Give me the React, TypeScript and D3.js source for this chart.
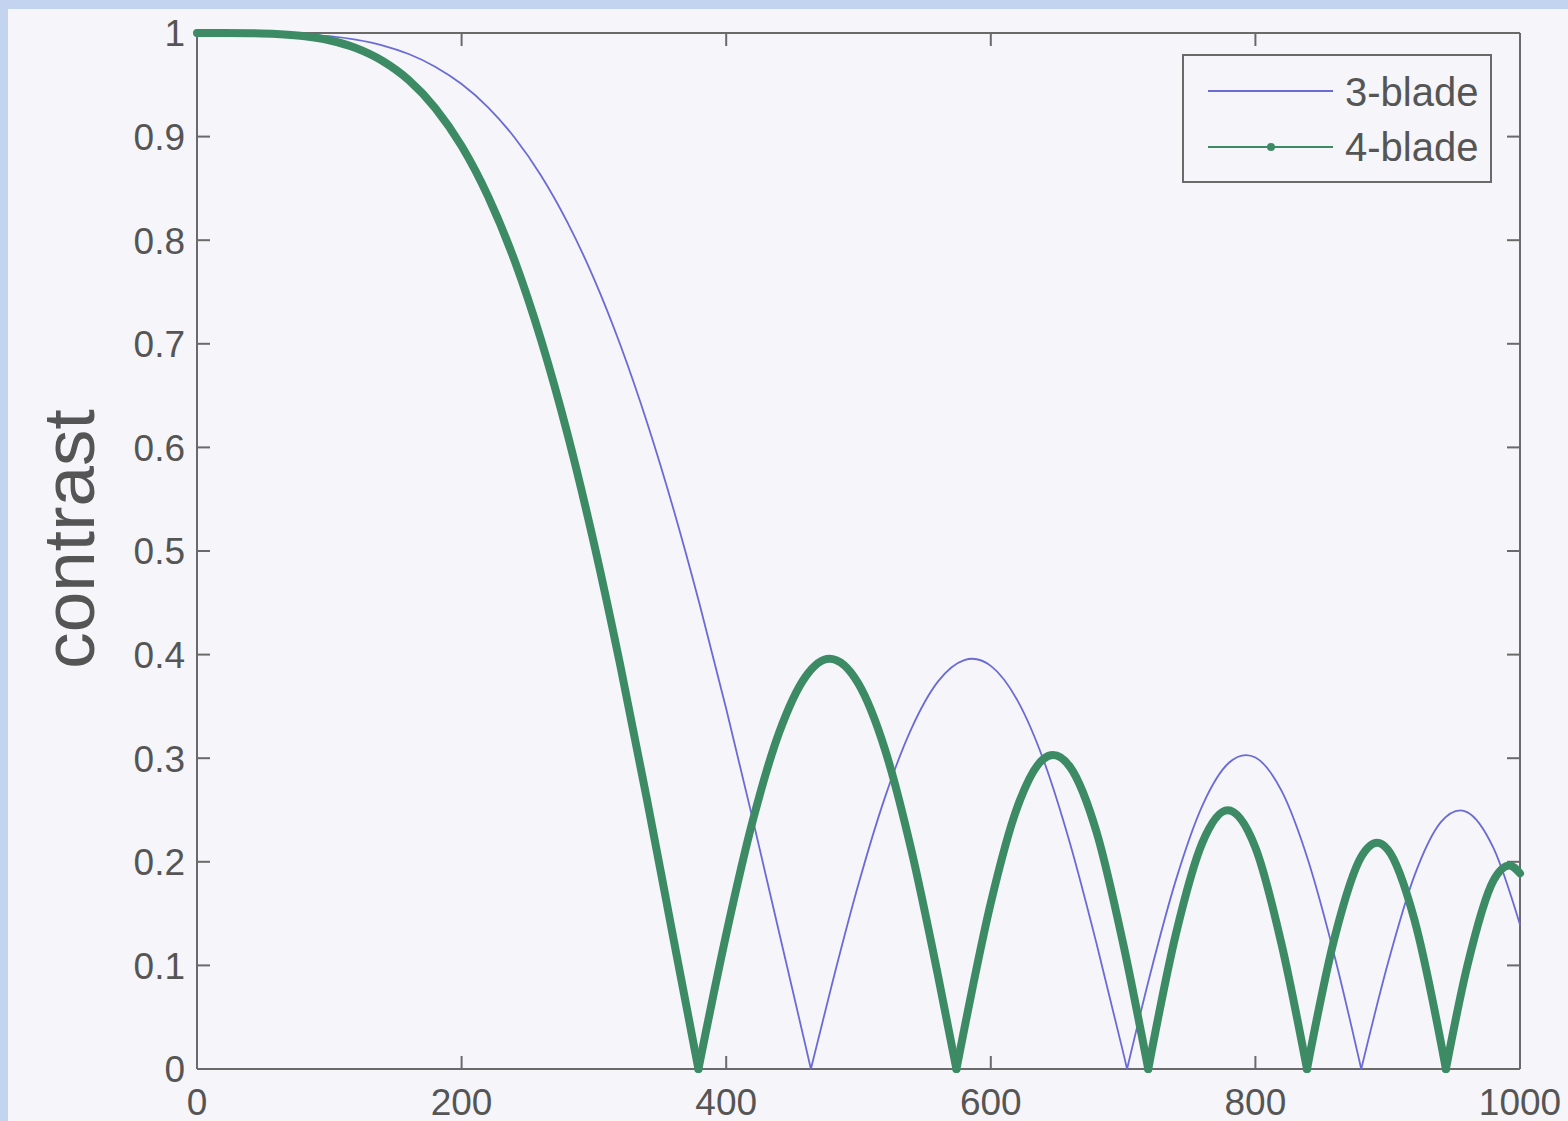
import React from "react";
import * as d3 from "d3";

// ---- data ----
const freq3 = [0, 20, 40, 60, 80, 100, 120, 140, 160, 180, 200, 220, 240, 260, 280, 300, 320, 340, 360, 380, 400, 420, 440, 460, 464, 480, 500, 520, 540, 560, 580, 586, 600, 620, 640, 660, 680, 700, 703, 720, 740, 760, 780, 793, 800, 820, 840, 860, 880, 900, 920, 940, 955, 960, 980, 1000];
const contrast3 = [1.0, 1.0, 0.9999, 0.9996, 0.9987, 0.9969, 0.9935, 0.9881, 0.9797, 0.9675, 0.9507, 0.9283, 0.8992, 0.8625, 0.8172, 0.763, 0.6989, 0.6248, 0.5411, 0.4482, 0.3477, 0.2414, 0.1318, 0.0222, 0, 0.0821, 0.1785, 0.2622, 0.3286, 0.3739, 0.3947, 0.396, 0.3891, 0.3561, 0.2977, 0.2172, 0.1207, 0.0163, 0, 0.0891, 0.1828, 0.2545, 0.2956, 0.303, 0.3006, 0.2679, 0.2008, 0.1082, 0, 0.1013, 0.1859, 0.238, 0.2497, 0.248, 0.2131, 0.1393];

const freq4 = [0, 20, 40, 60, 80, 100, 120, 140, 160, 180, 200, 220, 240, 260, 280, 300, 320, 340, 360, 379, 400, 420, 440, 460, 478, 500, 520, 540, 560, 574, 580, 600, 620, 640, 647, 660, 680, 700, 719, 740, 760, 779, 800, 820, 839, 860, 880, 892, 900, 920, 940, 944, 960, 980, 992, 1000];
const contrast4 = [1.0, 1.0, 0.9998, 0.9991, 0.9971, 0.993, 0.9855, 0.9732, 0.9546, 0.9277, 0.8909, 0.8423, 0.7805, 0.704, 0.6131, 0.5076, 0.3892, 0.2608, 0.1268, 0, 0.13, 0.2393, 0.3247, 0.3788, 0.396, 0.3718, 0.3084, 0.211, 0.0907, 0, 0.0389, 0.1604, 0.2526, 0.2995, 0.303, 0.2914, 0.2284, 0.1212, 0, 0.1308, 0.2187, 0.2497, 0.2137, 0.1192, 0, 0.1275, 0.2048, 0.2184, 0.2119, 0.145, 0.027, 0, 0.0986, 0.1821, 0.1965, 0.1889];

const xTicks = [0, 200, 400, 600, 800, 1000];
const xTickLabels = ["0", "200", "400", "600", "800", "1000"];
const yTicks = [0, 0.1, 0.2, 0.3, 0.4, 0.5, 0.6, 0.7, 0.8, 0.9, 1];
const yTickLabels = ["0", "0.1", "0.2", "0.3", "0.4", "0.5", "0.6", "0.7", "0.8", "0.9", "1"];
const seriesNames = ["3-blade", "4-blade"];
const yLabel = "contrast";

// ---- layout ----
const W = 1568;
const H = 1121;
const L = 197, R = 1520, T = 33, B = 1069;
const BLUE = "#6b6bd6";
const GREEN = "#3d8b65";
const AXIS = "#6a6a6a";
const TEXT = "#555555";
const FONT = "'Liberation Sans', Arial, Helvetica, sans-serif";

function splitAtZeros(xs: number[], ys: number[]): [number, number][][] {
  const segs: [number, number][][] = [];
  let cur: [number, number][] = [];
  for (let i = 0; i < xs.length; i++) {
    cur.push([xs[i], ys[i]]);
    if (ys[i] === 0 && i > 0 && i < xs.length - 1) {
      segs.push(cur);
      cur = [[xs[i], ys[i]]];
    }
  }
  if (cur.length > 1) segs.push(cur);
  return segs;
}

export default function App() {
  const x = d3.scaleLinear().domain([0, 1000]).range([L, R]);
  const y = d3.scaleLinear().domain([0, 1]).range([B, T]);
  const line = d3
    .line<[number, number]>()
    .x((d) => x(d[0]))
    .y((d) => y(d[1]))
    .curve(d3.curveMonotoneX);

  const seg3 = splitAtZeros(freq3, contrast3);
  const seg4 = splitAtZeros(freq4, contrast4);
  const tickLen = 13;

  return (
    <svg
      width={W}
      height={H}
      style={{ position: "absolute", left: 0, top: 0, display: "block" }}
      fontFamily={FONT}
    >
      <rect x={0} y={0} width={W} height={H} fill="#c3d4ef" />
      <rect x={8} y={9} width={W - 8} height={H - 9} fill="#f5f5fa" />

      {/* axes box */}
      <g stroke={AXIS} strokeWidth={2} fill="none">
        <line x1={L} y1={T} x2={R} y2={T} />
        <line x1={L} y1={B} x2={R} y2={B} />
        <line x1={L} y1={T} x2={L} y2={B} />
        <line x1={R} y1={T} x2={R} y2={B} />
        {xTicks.map((t) => (
          <g key={"xt" + t}>
            <line x1={x(t)} x2={x(t)} y1={B} y2={B - tickLen} />
            <line x1={x(t)} x2={x(t)} y1={T} y2={T + tickLen} />
          </g>
        ))}
        {yTicks.map((t) => (
          <g key={"yt" + t}>
            <line x1={L} x2={L + tickLen} y1={y(t)} y2={y(t)} />
            <line x1={R} x2={R - tickLen} y1={y(t)} y2={y(t)} />
          </g>
        ))}
      </g>

      {/* curves */}
      <g fill="none" strokeLinecap="round" strokeLinejoin="round">
        {seg3.map((s, i) => (
          <path key={"b" + i} d={line(s) || ""} stroke={BLUE} strokeWidth={1.8} />
        ))}
        {seg4.map((s, i) => (
          <path key={"g" + i} d={line(s) || ""} stroke={GREEN} strokeWidth={8} />
        ))}
      </g>

      {/* tick labels */}
      <g fill={TEXT} fontSize={37}>
        {xTicks.map((t, i) => (
          <text key={"xl" + t} x={x(t)} y={1115} textAnchor="middle">
            {xTickLabels[i]}
          </text>
        ))}
        {yTicks.map((t, i) => (
          <text key={"yl" + t} x={185} y={y(t)} dy="0.36em" textAnchor="end">
            {yTickLabels[i]}
          </text>
        ))}
      </g>

      <text
        transform={`translate(94, 539) rotate(-90)`}
        textAnchor="middle"
        fontSize={73}
        fill={TEXT}
      >
        {yLabel}
      </text>

      {/* legend */}
      <g>
        <rect x={1183} y={55} width={308} height={127} fill="#f5f5fa" stroke={AXIS} strokeWidth={2} />
        <line x1={1208} x2={1333} y1={91} y2={91} stroke={BLUE} strokeWidth={2} />
        <line x1={1208} x2={1333} y1={147} y2={147} stroke={GREEN} strokeWidth={2} />
        <circle cx={1271} cy={147} r={4} fill={GREEN} />
        <text x={1345} y={106} fontSize={40} fill={TEXT}>{seriesNames[0]}</text>
        <text x={1345} y={161} fontSize={40} fill={TEXT}>{seriesNames[1]}</text>
      </g>
    </svg>
  );
}
